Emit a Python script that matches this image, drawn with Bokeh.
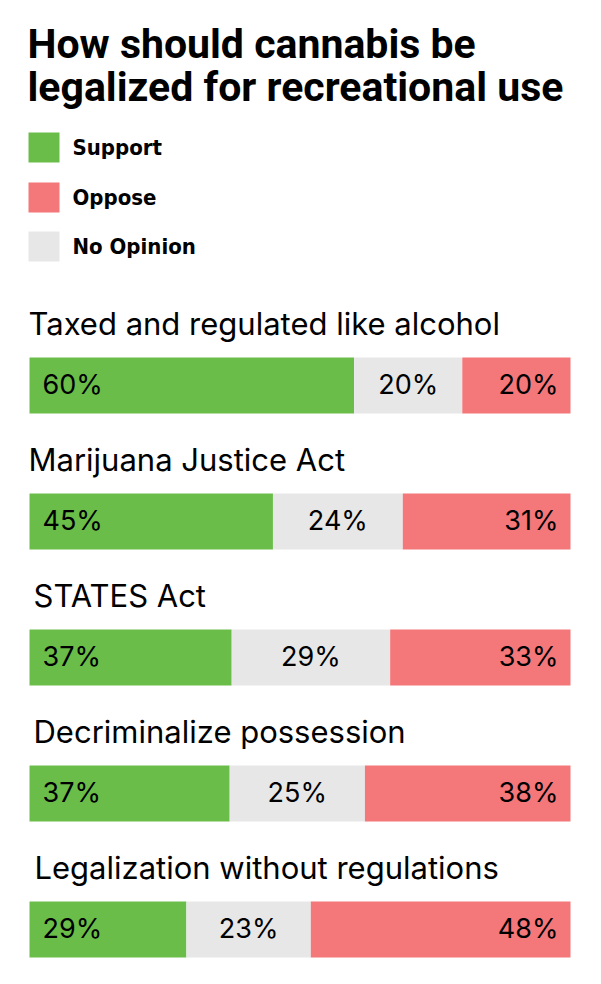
from bokeh.plotting import figure
from bokeh.models import Range1d
from bokeh.core.properties import value
from bokeh.embed import file_html
from bokeh.resources import INLINE

title_lines = ["How should cannabis be", "legalized for recreational use"]
categories = ["Taxed and regulated like alcohol", "Marijuana Justice Act", "STATES Act",
              "Decriminalize possession", "Legalization without regulations"]
support = [60, 45, 37, 37, 29]
no_opinion = [20, 24, 29, 25, 23]
oppose = [20, 31, 33, 38, 48]
legend_labels = ["Support", "Oppose", "No Opinion"]

GREEN = "#6abd48"
RED = "#f4777a"
GRAY = "#e7e7e7"

W, H = 601, 984
BAR_L, BAR_R = 29, 570
scale = (BAR_R - BAR_L) / 100.0
p = figure(width=W, height=H, output_backend="svg", toolbar_location=None,
           x_range=Range1d(-BAR_L / scale, (W - BAR_L) / scale),
           y_range=Range1d(H, 0), x_axis_type=None, y_axis_type=None,
           min_border=0, outline_line_color=None)
p.grid.visible = False
p.background_fill_color = "white"
p.border_fill_color = "white"

K = 0.42  # baseline correction (fraction of font size)


def px(x):
    return (x - BAR_L) / scale


def base_y(y, size):
    return y - K * size


# title
TS = 41
p.text(x=[px(27)] * 2, y=[base_y(61, TS), base_y(104, TS)], text=title_lines,
       text_font=value("Roboto"), text_font_style="bold", text_font_size=f"{TS}px",
       text_color="#000000", text_baseline="alphabetic")

# legend
LS = 22
leg_colors = [GREEN, RED, GRAY]
leg_top = [132, 182, 231]
p.quad(left=[px(28)] * 3, right=[px(59)] * 3, top=leg_top, bottom=[t + 30 for t in leg_top],
       fill_color=leg_colors, line_color=None)
p.text(x=[px(72)] * 3, y=[base_y(t + 24, LS) for t in leg_top], text=legend_labels,
       text_font=value("DejaVu Sans Condensed"), text_font_style="bold",
       text_font_size=f"{LS}px", text_color="#000000", text_baseline="alphabetic")

# bars
n = len(categories)
bar_top = [357 + 136 * i for i in range(n)]
bar_h = 56
centers = [t + bar_h / 2 for t in bar_top]
tot = [s + a + o for s, a, o in zip(support, no_opinion, oppose)]
s_end = [s * 100.0 / t for s, t in zip(support, tot)]
n_end = [(s + a) * 100.0 / t for s, a, t in zip(support, no_opinion, tot)]

p.hbar(y=centers, left=[0] * n, right=s_end, height=bar_h, fill_color=GREEN, line_color=None)
p.hbar(y=centers, left=s_end, right=n_end, height=bar_h, fill_color=GRAY, line_color=None)
p.hbar(y=centers, left=n_end, right=[100] * n, height=bar_h, fill_color=RED, line_color=None)

CS = 31
label_x = [28, 28, 33, 33, 34]
p.text(x=[px(v) for v in label_x], y=[base_y(t - 21, CS) for t in bar_top], text=categories,
       text_font=value("Inter"), text_font_size=f"{CS}px", text_color="#000000",
       text_baseline="alphabetic")

PS = 27
pct_style = dict(text_font=value("Inter"), text_font_size=f"{PS}px", text_color="#000000",
                 text_baseline="alphabetic")
base = [base_y(c + 10, PS) for c in centers]
p.text(x=[px(42)] * n, y=base, text=[f"{v}%" for v in support], text_align="left", **pct_style)
p.text(x=[(a + b) / 2 for a, b in zip(s_end, n_end)], y=base,
       text=[f"{v}%" for v in no_opinion], text_align="center", **pct_style)
p.text(x=[px(558)] * n, y=base, text=[f"{v}%" for v in oppose], text_align="right", **pct_style)

open("out.html", "w").write(file_html(p, INLINE))
